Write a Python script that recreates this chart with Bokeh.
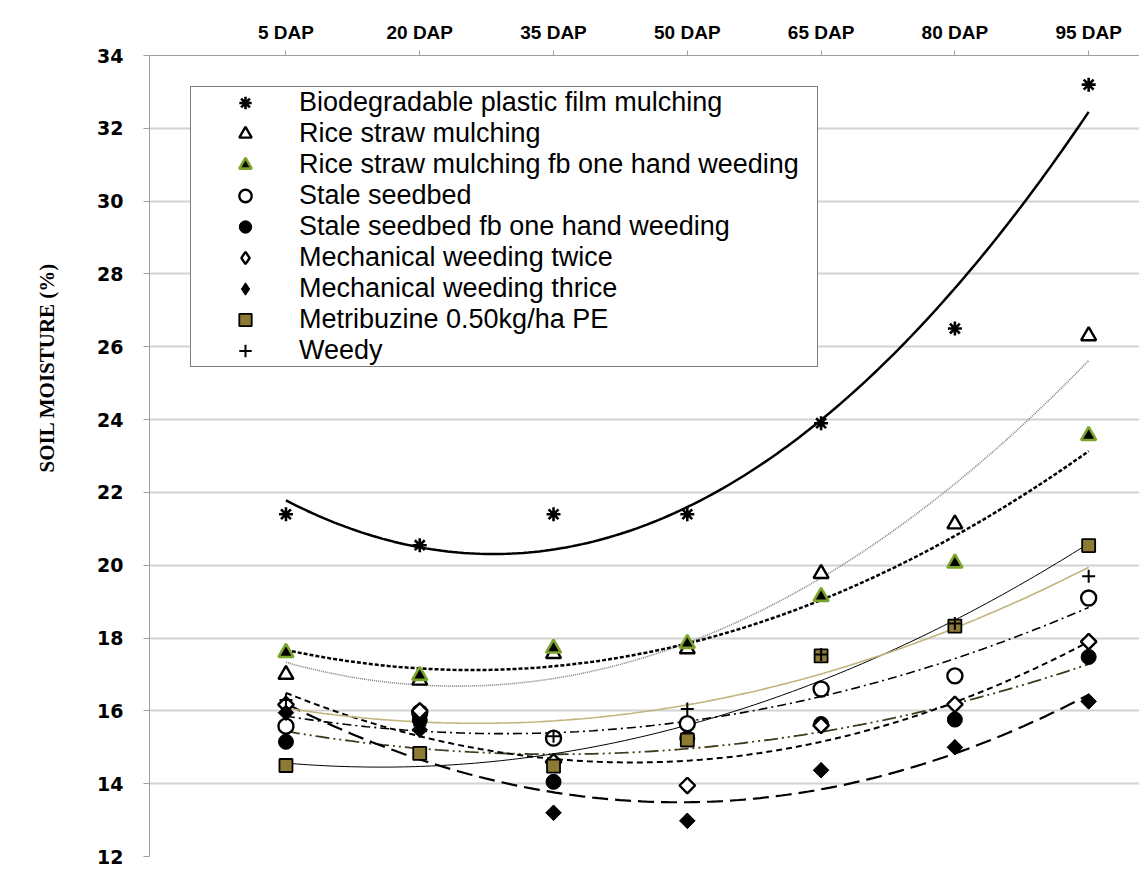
import math
import numpy as np
from bokeh.plotting import figure
from bokeh.models import FixedTicker, Legend, LegendItem, Title
from bokeh.embed import file_html
from bokeh.resources import INLINE

# ---- data ----
dap = [5, 20, 35, 50, 65, 80, 95]
dap_labels = ["5 DAP", "20 DAP", "35 DAP", "50 DAP", "65 DAP", "80 DAP", "95 DAP"]
y_ticks = [12, 14, 16, 18, 20, 22, 24, 26, 28, 30, 32, 34]

biodegradable = [21.4, 20.55, 21.4, 21.4, 23.9, 26.5, 33.2]
rice_straw = [17.0, 16.84, 17.57, 17.7, 19.77, 21.13, 26.3]
rice_straw_hw = [17.6, 16.97, 17.72, 17.85, 19.14, 20.06, 23.56]
stale = [15.58, 15.95, 15.25, 15.65, 16.6, 16.96, 19.1]
stale_hw = [15.15, 15.75, 14.05, 15.25, 15.64, 15.76, 17.48]
mech_twice = [16.17, 16.0, 14.6, 13.95, 15.6, 16.18, 17.9]
mech_thrice = [15.95, 15.48, 13.2, 12.98, 14.37, 15.0, 16.26]
metribuzine = [14.5, 14.83, 14.48, 15.2, 17.51, 18.33, 20.54]
weedy = [16.3, 15.6, 15.3, 16.05, 17.55, 18.4, 19.7]

names = [
    "Biodegradable plastic film mulching",
    "Rice straw mulching",
    "Rice straw mulching fb one hand weeding",
    "Stale seedbed",
    "Stale seedbed fb one hand weeding",
    "Mechanical weeding twice",
    "Mechanical weeding thrice",
    "Metribuzine 0.50kg/ha PE",
    "Weedy",
]
series = [biodegradable, rice_straw, rice_straw_hw, stale, stale_hw,
          mech_twice, mech_thrice, metribuzine, weedy]

# ---- styles ----
markers = [
    dict(marker="asterisk", size=14, fill_color="black", line_color="black", line_width=2.6),
    dict(marker="triangle", size=15, fill_color="white", line_color="black", line_width=2.4),
    dict(marker="triangle", size=15, fill_color="black", line_color="#7aa52a", line_width=2.6),
    dict(marker="circle", size=15, fill_color="white", line_color="black", line_width=2.4),
    dict(marker="circle", size=15, fill_color="black", line_color="black", line_width=1),
    dict(marker="square", size=11, angle=math.pi / 4, fill_color="white", line_color="black", line_width=2.4),
    dict(marker="square", size=11, angle=math.pi / 4, fill_color="black", line_color="black", line_width=1),
    dict(marker="square", size=13, fill_color="#8c7a35", line_color="black", line_width=1.8),
    dict(marker="cross", size=13, fill_color="black", line_color="black", line_width=2),
]
trend_styles = [
    dict(line_color="black", line_width=2.5, line_dash="solid"),
    dict(line_color="#808080", line_width=1.6, line_dash="1 1"),
    dict(line_color="black", line_width=2.5, line_dash="4 2"),
    dict(line_color="black", line_width=1.6, line_dash="9 4 2 4"),
    dict(line_color="#3f3a1c", line_width=1.8, line_dash="14 4 2 4 2 4"),
    dict(line_color="black", line_width=2, line_dash="6 4"),
    dict(line_color="black", line_width=2.2, line_dash="16 7"),
    dict(line_color="black", line_width=1, line_dash="solid"),
    dict(line_color="#c2b47e", line_width=1.6, line_dash="solid"),
]

p = figure(width=1139, height=867, x_range=(-10.3, 100.7), y_range=(12, 34),
           x_axis_location="above", output_backend="svg", toolbar_location=None,
           min_border_left=148, min_border_top=55, min_border_right=0,
           min_border_bottom=11)
p.outline_line_color = None
p.background_fill_color = "white"

# trendlines (2nd order polynomial fits of each series)
xs = np.linspace(dap[0], dap[-1], 150)
for vals, st in zip(series, trend_styles):
    coef = np.polyfit(dap, vals, 2)
    p.line(xs, np.polyval(coef, xs), **st)

items = []
for name, vals, mk in zip(names, series, markers):
    if mk.get("angle"):
        # diamond key glyph (legends ignore marker angle), covered on the plot
        # by the rotated square drawn right after it at the same points
        key = dict(mk)
        key.pop("angle")
        key["marker"] = "diamond"
        key["size"] = 15
        r = p.scatter(dap, vals, **key)
        p.scatter(dap, vals, **mk)
    else:
        r = p.scatter(dap, vals, **mk)
    items.append(LegendItem(label=name, renderers=[r]))

# axes
xa = p.xaxis[0]
xa.ticker = FixedTicker(ticks=dap)
xa.major_label_overrides = {d: lab for d, lab in zip(dap, dap_labels)}
xa.major_label_text_font = "'Liberation Sans Narrow', 'Arial Narrow', 'Liberation Sans', sans-serif"
xa.major_label_text_font_style = "bold"
xa.major_label_text_font_size = "19px"
xa.major_label_text_color = "black"
xa.axis_line_color = "#a0a0a0"
xa.major_tick_line_color = "#a0a0a0"
xa.major_tick_out = 5
xa.major_tick_in = 0
xa.minor_tick_line_color = None
xa.major_label_standoff = 8

ya = p.yaxis[0]
ya.ticker = FixedTicker(ticks=y_ticks)
ya.major_label_text_font = "DejaVu Sans"
ya.major_label_text_font_style = "bold"
ya.major_label_text_font_size = "19px"
ya.major_label_text_color = "black"
ya.axis_line_color = "#a0a0a0"
ya.major_tick_line_color = "#a0a0a0"
ya.major_tick_out = 6
ya.major_tick_in = 0
ya.minor_tick_line_color = None
ya.major_label_standoff = 20

p.xgrid.grid_line_color = None
p.ygrid.ticker = FixedTicker(ticks=y_ticks)
p.ygrid.grid_line_color = "#d2d2d2"
p.ygrid.grid_line_width = 2

ytitle = Title(text="SOIL MOISTURE (%)", align="right", offset=207,
               vertical_align="top", standoff=68, text_font="Liberation Serif",
               text_font_style="bold", text_font_size="21px", text_color="black")
p.add_layout(ytitle, "left")

legend = Legend(items=items, location=(41, 489), padding=0, spacing=0, margin=0,
                glyph_width=108, glyph_height=31, label_height=31, label_width=518,
                label_standoff=0, label_text_font="Liberation Sans",
                label_text_font_size="27px", label_text_color="black",
                border_line_color="black", border_line_width=1.5,
                background_fill_color="white", background_fill_alpha=1)
p.add_layout(legend)

open("out.html", "w").write(file_html(p, INLINE))
